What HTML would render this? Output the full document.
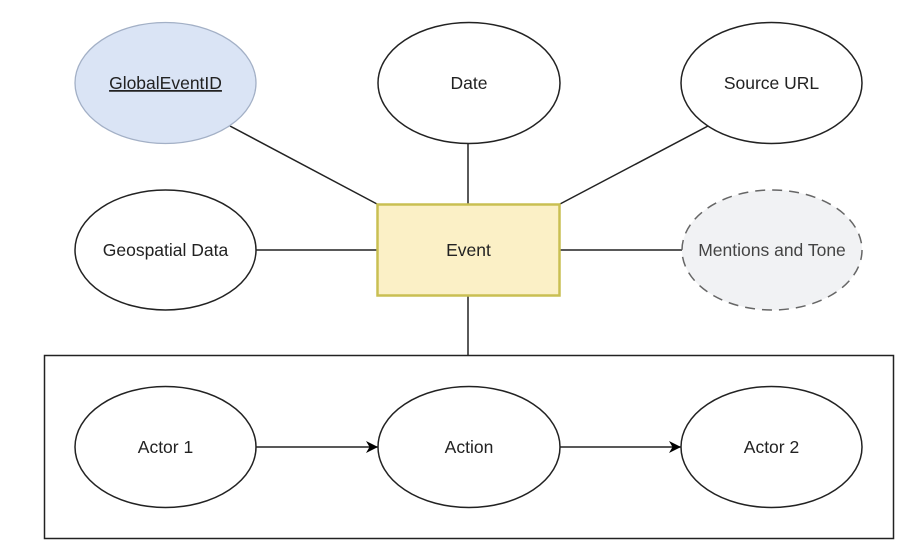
<!DOCTYPE html>
<html><head><meta charset="utf-8"><style>html,body{margin:0;padding:0;background:#fff;}svg{display:block;}</style></head>
<body>
<svg width="920" height="549" viewBox="0 0 920 549" xmlns="http://www.w3.org/2000/svg" font-family="Liberation Sans, Arial, sans-serif" font-size="17.5" fill="none">
<defs>
<marker id="ah" markerWidth="13" markerHeight="12" refX="12" refY="6" orient="auto" markerUnits="userSpaceOnUse">
<path d="M0,0 L12,6 L0,12 L3.5,6 Z" fill="#000"/>
</marker>
</defs>
<g stroke="#222" stroke-width="1.5">
<line x1="230" y1="126" x2="377" y2="204"/>
<line x1="468" y1="143" x2="468" y2="204"/>
<line x1="708" y1="126" x2="560" y2="204"/>
<line x1="256" y1="250" x2="377" y2="250"/>
<line x1="560" y1="250" x2="682" y2="250"/>
<line x1="468" y1="296" x2="468" y2="355"/>
<rect x="44.5" y="355.5" width="849" height="183"/>
<line x1="256" y1="447" x2="378" y2="447" marker-end="url(#ah)"/>
<line x1="560" y1="447" x2="681" y2="447" marker-end="url(#ah)"/>
</g>
<ellipse cx="165.5" cy="83" rx="90.5" ry="60.5" fill="#dae4f5" stroke="#a3b0c6" stroke-width="1.3"/>
<ellipse cx="469" cy="83" rx="91" ry="60.5" fill="#fff" stroke="#222" stroke-width="1.5"/>
<ellipse cx="771.5" cy="83" rx="90.5" ry="60.5" fill="#fff" stroke="#222" stroke-width="1.5"/>
<ellipse cx="165.5" cy="250" rx="90.5" ry="60" fill="#fff" stroke="#222" stroke-width="1.5"/>
<ellipse cx="772" cy="250" rx="90" ry="60" fill="#f1f2f4" stroke="#666" stroke-width="1.5" stroke-dasharray="10,7"/>
<rect x="377.5" y="204.5" width="182" height="91" fill="#fbf0c6" stroke="#c9bf52" stroke-width="2.5"/>
<ellipse cx="165.5" cy="447" rx="90.5" ry="60.5" fill="#fff" stroke="#222" stroke-width="1.5"/>
<ellipse cx="469" cy="447" rx="91" ry="60.5" fill="#fff" stroke="#222" stroke-width="1.5"/>
<ellipse cx="771.5" cy="447" rx="90.5" ry="60.5" fill="#fff" stroke="#222" stroke-width="1.5"/>
<g fill="#222" text-anchor="middle">
<text x="165.5" y="89" text-decoration="underline">GlobalEventID</text>
<text x="469" y="89">Date</text>
<text x="771.5" y="89">Source URL</text>
<text x="165.5" y="256">Geospatial Data</text>
<text x="468.5" y="256">Event</text>
<text x="772" y="256" fill="#444">Mentions and Tone</text>
<text x="165.5" y="453">Actor 1</text>
<text x="469" y="453">Action</text>
<text x="771.5" y="453">Actor 2</text>
</g>
</svg>
</body></html>
